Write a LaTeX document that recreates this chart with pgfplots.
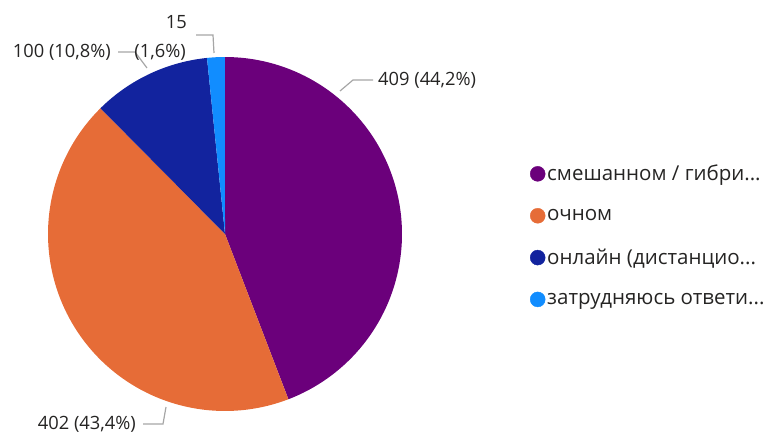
\documentclass[border=0pt]{standalone}
\usepackage{fontspec}
\setmainfont{Open Sans}
\usepackage{pgfplots}
\pgfplotsset{compat=1.18}

\definecolor{cPurple}{HTML}{6B007B}
\definecolor{cOrange}{HTML}{E66C37}
\definecolor{cNavy}{HTML}{12239E}
\definecolor{cSky}{HTML}{118DFF}
\definecolor{txt}{HTML}{252423}
\definecolor{lead}{HTML}{A6A6A6}

% counts per answer
\def\vA{409}
\def\vB{402}
\def\vC{100}
\def\vD{15}
\pgfmathsetmacro\tot{\vA+\vB+\vC+\vD}
\pgfmathsetmacro\aA{90}
\pgfmathsetmacro\aB{\aA-360*(\vA/\tot)}
\pgfmathsetmacro\aC{\aB-360*(\vB/\tot)}
\pgfmathsetmacro\aD{\aC-360*(\vC/\tot)}
\pgfmathsetmacro\aE{\aD-360*(\vD/\tot)}

\begin{document}
\begin{tikzpicture}
\begin{axis}[
  x=1pt, y=1pt, scale only axis,
  xmin=0, xmax=771, ymin=0, ymax=434,
  hide axis, clip=false,
  legend style={at={(axis cs:527,198.5)}, anchor=west, draw=none, fill=none,
    font=\fontsize{20.5}{24}\selectfont\color{txt}, row sep=23pt,
    /tikz/every even column/.append style={column sep=3pt}},
  legend cell align=left,
]
\path (axis cs:0,0) rectangle (axis cs:771,434);

\addplot[forget plot, fill=cPurple, draw=none, domain=\aB:\aA, samples=90, variable=\t]
  ({225+177*cos(\t)}, {200+177*sin(\t)}) -- (axis cs:225,200) -- cycle;
\addplot[forget plot, fill=cOrange, draw=none, domain=\aC:\aB, samples=90, variable=\t]
  ({225+177*cos(\t)}, {200+177*sin(\t)}) -- (axis cs:225,200) -- cycle;
\addplot[forget plot, fill=cNavy, draw=none, domain=\aD:\aC, samples=30, variable=\t]
  ({225+177*cos(\t)}, {200+177*sin(\t)}) -- (axis cs:225,200) -- cycle;
\addplot[forget plot, fill=cSky, draw=none, domain=\aE:\aD, samples=10, variable=\t]
  ({225+177*cos(\t)}, {200+177*sin(\t)}) -- (axis cs:225,200) -- cycle;

\addlegendimage{only marks, mark=*, mark size=7.5pt, mark options={fill=cPurple, draw=cPurple}}
\addlegendentry{смешанном / гибри...}
\addlegendimage{only marks, mark=*, mark size=7.5pt, mark options={fill=cOrange, draw=cOrange}}
\addlegendentry{очном}
\addlegendimage{only marks, mark=*, mark size=7.5pt, mark options={fill=cNavy, draw=cNavy}}
\addlegendentry{онлайн (дистанцио...}
\addlegendimage{only marks, mark=*, mark size=7.5pt, mark options={fill=cSky, draw=cSky}}
\addlegendentry{затрудняюсь ответи...}

% leader lines
\draw[lead, line width=1.2pt] (axis cs:340,343) -- (axis cs:353,354) -- (axis cs:373,354);
\draw[lead, line width=1.2pt] (axis cs:147,366) -- (axis cs:135,382) -- (axis cs:118,382);
\draw[lead, line width=1.2pt] (axis cs:196,399) -- (axis cs:213,399) -- (axis cs:214,381);
\draw[lead, line width=1.2pt] (axis cs:166,27) -- (axis cs:163,10) -- (axis cs:143,10);

% data labels
\begin{scope}[every node/.style={font=\fontsize{18.3}{21}\selectfont, text=txt, inner sep=0pt}]
\node[anchor=west] at (axis cs:378,354) {409 (44,2\%)};
\node[anchor=east] at (axis cs:111,382) {100 (10,8\%)};
\node[anchor=east] at (axis cs:187,412) {15};
\node[anchor=east] at (axis cs:186,382) {(1,6\%)};
\node[anchor=east] at (axis cs:136,10) {402 (43,4\%)};
\end{scope}
\end{axis}
\end{tikzpicture}
\end{document}
